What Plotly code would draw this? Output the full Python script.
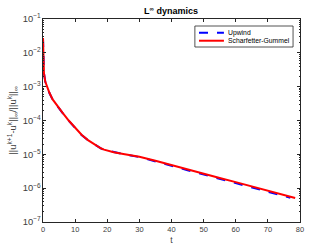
import plotly.graph_objects as go

t_sg = [0, 0.1, 0.3, 0.7, 1.2, 2, 3, 4.5, 6, 8, 10, 12, 14, 16, 18, 19, 20, 22, 25,
        30, 35, 40, 45, 50, 55, 60, 65, 70, 75, 78.5]
y_sg = [2.75e-2, 1.0e-2, 2.5e-3, 1.41e-3, 1.0e-3, 6.6e-4, 4.2e-4, 2.6e-4, 1.74e-4,
        1.0e-4, 6.0e-5, 3.8e-5, 2.63e-5, 1.95e-5, 1.51e-5, 1.38e-5, 1.29e-5, 1.15e-5,
        1.02e-5, 8.5e-6, 6.5e-6, 4.8e-6, 3.55e-6, 2.7e-6, 2.0e-6, 1.51e-6, 1.12e-6,
        8.5e-7, 6.3e-7, 5.1e-7]

t_up = [0, 0.1, 0.3, 0.7, 1.2, 2, 3, 4.5, 6, 8, 10, 12, 14, 16, 18, 19, 20, 22, 25,
        30, 35, 40, 45, 50, 55, 60, 65, 70, 75, 77]
y_up = [2.75e-2, 1.0e-2, 2.5e-3, 1.41e-3, 1.0e-3, 6.5e-4, 4.1e-4, 2.55e-4, 1.7e-4,
        0.98e-4, 5.9e-5, 3.75e-5, 2.6e-5, 1.93e-5, 1.5e-5, 1.37e-5, 1.3e-5, 1.16e-5,
        1.01e-5, 8.3e-6, 6.3e-6, 4.6e-6, 3.4e-6, 2.55e-6, 1.9e-6, 1.42e-6, 1.05e-6,
        7.9e-7, 5.9e-7, 5.2e-7]

names = ["Upwind", "Scharfetter-Gummel"]
colors = ["#0000ff", "#ff0000"]
dashes = ["dash", "solid"]

FONT = "Liberation Sans, Arial, sans-serif"

fig = go.Figure()
fig.add_trace(go.Scatter(x=t_up, y=y_up, mode="lines", name=names[0], showlegend=False,
                         line=dict(color=colors[0], width=2, dash=dashes[0])))
fig.add_trace(go.Scatter(x=t_sg, y=y_sg, mode="lines", name=names[1], showlegend=False,
                         line=dict(color=colors[1], width=2, dash=dashes[1])))

axis_common = dict(showline=True, linecolor="#262626", linewidth=0.8, mirror="ticks",
                   ticks="inside", ticklen=3, tickcolor="#262626", showgrid=False,
                   zeroline=False, automargin=False,
                   tickfont=dict(size=7.5, color="#404040", family=FONT))

# compact legend box drawn in plot-area coordinates
fig.add_shape(type="rect", xref="paper", yref="paper", x0=0.591, x1=0.973,
              y0=0.862, y1=0.9655, line=dict(color="#262626", width=0.8),
              fillcolor="white", layer="above")
rows_y = [0.9325, 0.893]
for nm, c, d, yy in zip(names, colors, dashes, rows_y):
    fig.add_shape(type="line", xref="paper", yref="paper", x0=0.607, x1=0.704,
                  y0=yy, y1=yy, line=dict(color=c, width=2, dash=d), layer="above")
    fig.add_annotation(text=nm, xref="paper", yref="paper", x=0.712, y=yy,
                       xanchor="left", yanchor="middle", showarrow=False,
                       font=dict(size=6.8, color="black", family=FONT))

fig.update_layout(
    width=332, height=249,
    margin=dict(l=43, r=32, t=19, b=27, autoexpand=False),
    paper_bgcolor="white", plot_bgcolor="white",
    font=dict(family=FONT, color="#262626"),
    title=dict(text="<b>L<sup>∞</sup> dynamics</b>", x=0.515, xanchor="center",
               y=0.955, yanchor="middle", font=dict(size=9, color="black")),
    xaxis=dict(range=[0, 80], dtick=10, title=dict(text="t", standoff=4,
               font=dict(size=8.5, color="#404040")), **axis_common),
    yaxis=dict(type="log", range=[-7, -1], dtick=1, exponentformat="power",
               showexponent="all",
               minor=dict(ticks="inside", ticklen=1.5, tickcolor="#262626"),
               title=dict(text="||u<sup>k+1</sup>-u<sup>k</sup>||<sub>∞</sub>/||u<sup>k</sup>||<sub>∞</sub>",
                          standoff=4, font=dict(size=9.5, color="#404040")),
               **axis_common),
    showlegend=False,
)

fig.write_html("out.html", config={"responsive": False, "displayModeBar": False},
               post_script="document.body.style.margin='0';document.body.style.overflow='hidden';")
